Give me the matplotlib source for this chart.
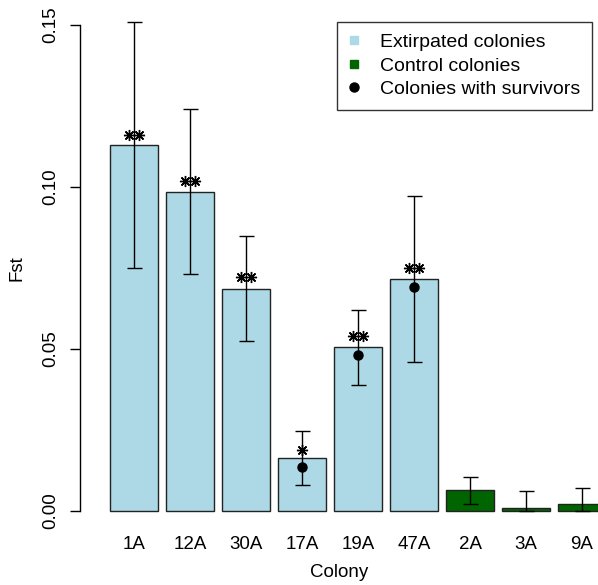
import numpy as np
import matplotlib

matplotlib.use("Agg")
import matplotlib.pyplot as plt
from matplotlib.lines import Line2D

plt.rcParams["font.family"] = ["Liberation Sans", "DejaVu Sans"]

# values
colonies = ["1A", "12A", "30A", "17A", "19A", "47A", "2A", "3A", "9A"]
fst = [0.113, 0.0985, 0.0686, 0.0164, 0.0506, 0.0716, 0.0065, 0.0009, 0.0023]
err_lo = [0.075, 0.073, 0.0525, 0.008, 0.039, 0.0461, 0.0021, 0.0, 0.0]
err_hi = [0.151, 0.124, 0.085, 0.0247, 0.062, 0.0972, 0.0106, 0.0063, 0.0072]
group = ["ext"] * 6 + ["ctl"] * 3
# colonies with survivors (dot value)
surv_idx = [3, 4, 5]
surv_val = [0.0136, 0.048, 0.0691]
# significance stars: position value and count
star_idx = [0, 1, 2, 3, 4, 5]
star_val = [0.116, 0.102, 0.0722, 0.0188, 0.054, 0.0751]
star_n = [2, 2, 2, 1, 2, 2]

colors = {"ext": "#ADD8E6", "ctl": "#006400"}

fig = plt.figure(figsize=(5.98, 5.85), dpi=100)
ax = fig.add_axes([80 / 598, 0.0933, 518 / 598, 0.8971])

x = np.arange(len(colonies))
ax.bar(x, fst, width=48 / 56, color=[colors[g] for g in group],
       edgecolor="#222222", linewidth=1.0, zorder=1)

yerr = [np.array(fst) - np.array(err_lo), np.array(err_hi) - np.array(fst)]
ax.errorbar(x, fst, yerr=yerr, fmt="none", ecolor="black", elinewidth=1.0,
            capsize=5.4, capthick=1.0, zorder=2, clip_on=False)

ax.plot(x[surv_idx], surv_val, "o", color="black", markersize=6.5, zorder=3)

star = (8, 2, 0)
for i, v, n in zip(star_idx, star_val, star_n):
    offs = [0.0] if n == 1 else [-0.095, 0.095]
    for o in offs:
        ax.plot(x[i] + o, v, marker=star, color="black", markersize=8,
                markeredgewidth=1.0, linestyle="none", zorder=4)

ax.set_xlim((80 - 134) / 56, (598 - 134) / 56)
ax.set_ylim(-0.006, 0.156)

for s in ["top", "right", "bottom"]:
    ax.spines[s].set_visible(False)
ax.spines["left"].set_bounds(0, 0.15)
ax.spines["left"].set_linewidth(1.0)

fs = 13.5
ax.set_yticks([0.0, 0.05, 0.10, 0.15])
ax.set_yticklabels(["0.00", "0.05", "0.10", "0.15"], rotation=90, va="center")
ax.tick_params(axis="y", length=7.2, width=1.0, labelsize=fs, pad=8)
ax.set_xticks(x)
ax.set_xticklabels(colonies)
ax.tick_params(axis="x", length=0, labelsize=fs, pad=4)

ax.set_xlabel("Colony", fontsize=fs, labelpad=8)
ax.set_ylabel("Fst", fontsize=fs, labelpad=12)

handles = [
    Line2D([], [], marker="s", color="#ADD8E6", linestyle="none", markersize=6),
    Line2D([], [], marker="s", color="#006400", linestyle="none", markersize=6),
    Line2D([], [], marker="o", color="black", linestyle="none", markersize=6.5),
]
leg = fig.legend(handles, ["Extirpated colonies", "Control colonies",
                           "Colonies with survivors"],
                 loc="upper right", bbox_to_anchor=(592 / 598, (585 - 22) / 585),
                 fontsize=14, frameon=True, fancybox=False, borderaxespad=0,
                 handletextpad=1.1, handlelength=0.5, labelspacing=0.3,
                 borderpad=0.6)
leg.get_frame().set_edgecolor("black")
leg.get_frame().set_linewidth(1.0)

fig.savefig("out.png", dpi=100)
